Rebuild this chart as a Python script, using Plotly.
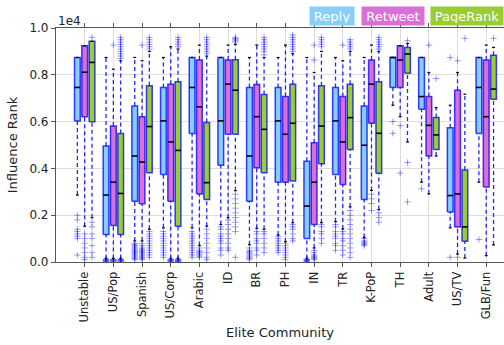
import plotly.graph_objects as go

categories = ["Unstable", "US/Pop", "Spanish", "US/Corp", "Arabic", "ID", "BR", "PH",
              "IN", "TR", "K-PoP", "TH", "Adult", "US/TV", "GLB/Fun"]
series_names = ["Reply", "Retweet", "PageRank"]
y_ticks = [0.0, 0.2, 0.4, 0.6, 0.8, 1.0]
y_tick_labels = ["0.0", "0.2", "0.4", "0.6", "0.8", "1.0"]

# Influence rank values, in units of 1e4
reply_q1 = [.603, .117, .26, .374, .549, .413, .26, .341, .10, .374, .267, .746, .653, .214, .549]
reply_med = [.746, .286, .453, .603, .746, .603, .453, .603, .239, .603, .499, .874, .707, .284, .746]
reply_q3 = [.874, .496, .667, .746, .874, .874, .746, .746, .431, .746, .667, .874, .874, .574, .874]
reply_lo = [.286, .015, .09, .146, .146, .16, .074, .115, .015, .172, .105, .67, .341, .146, .341]
reply_hi = [.874, .874, .874, .874, .874, .874, .874, .874, .874, .874, .874, .874, .874, .67, .874]
reply_out = [
    [.20, .18, .14, .13, .12, .11, .10, .03],
    [.012, .010, .008, .006, .004, .002],
    [.08, .075, .07, .065, .06, .055, .05, .045, .04, .035, .03, .025, .02, .015, .01],
    [.13, .12, .11, .10, .09, .08, .07, .06, .05, .04, .03, .02],
    [.13, .12, .11, .10, .09, .08, .07, .06, .05, .04, .03, .02],
    [.15, .14, .12, .11, .10, .09, .08, .06, .05, .03],
    [.06, .05, .045, .04, .035, .03, .025, .02, .015, .01],
    [.11, .10, .09, .08, .07, .06, .05, .04],
    [.012, .010, .008, .006, .004, .002],
    [.16, .15, .13, .12, .11, .10, .08, .07, .05],
    [.10, .09, .085, .08, .075, .07],
    [.60, .55],
    [.313],
    [.874, .02],
    [.096],
]

retweet_q1 = [.621, .156, .249, .26, .291, .546, .403, .341, .16, .331, .593, .746, .453, .15, .321]
retweet_med = [.811, .341, .427, .513, .663, .76, .621, .546, .341, .513, .76, .863, .584, .291, .621]
retweet_q3 = [.924, .581, .621, .76, .863, .863, .759, .707, .51, .707, .863, .924, .707, .734, .863]
retweet_lo = [.153, .015, .09, .015, .07, .189, .144, .087, .06, .141, .306, .621, .291, .034, .027]
retweet_hi = [.924, .824, .86, .92, .927, .927, .927, .927, .81, .86, .927, .924, .81, .81, .927]
retweet_out = [
    [.12, .10, .08, .06, .04, .02, .01],
    [.927, .012, .010, .008, .006, .004, .002],
    [.927, .08, .07, .06, .055, .05, .045, .04, .035, .03, .025, .02, .015, .01],
    [.012, .010, .008, .006, .004, .002],
    [.06, .05, .045, .04, .035, .03, .025, .02],
    [.18, .16, .14, .12, .10, .08, .06, .05],
    [.13, .12, .10, .09, .08, .06, .05, .03],
    [.08, .07, .06, .05, .04, .03, .02, .01],
    [.863, .927, .05, .04, .03, .025, .02, .015, .01],
    [.927, .13, .12, .10, .09, .07, .05, .03],
    [.29, .27, .25, .22],
    [.583, .38],
    [.927],
    [.86, .02],
    [],
]

pagerank_q1 = [.599, .117, .381, .153, .267, .546, .381, .346, .42, .481, .379, .807, .481, .089, .696]
pagerank_med = [.853, .293, .579, .477, .339, .734, .567, .593, .581, .617, .55, .889, .543, .15, .739]
pagerank_q3 = [.943, .549, .753, .77, .596, .864, .716, .76, .753, .76, .77, .917, .617, .393, .884]
pagerank_lo = [.189, .015, .14, .015, .153, .305, .14, .168, .168, .235, .224, .513, .453, .017, .073]
pagerank_hi = [.943, .86, .90, .91, .88, .93, .874, .89, .90, .90, .90, .934, .66, .717, .917]
pagerank_out = [
    [.96, .17, .15, .12, .10, .07, .04, .02],
    [.87, .88, .89, .90, .91, .92, .93, .94, .95, .96, .012, .010, .008, .006, .004, .002],
    [.91, .92, .93, .94, .95, .96, .13, .12, .11, .10, .09, .08, .07, .06, .05, .04, .03, .02],
    [.92, .93, .94, .95, .96, .012, .010, .008, .006, .004, .002],
    [.89, .90, .91, .92, .93, .94, .95, .96, .14, .12, .10, .08, .06, .04, .02, .01],
    [.94, .945, .95, .955, .96, .29, .27, .25, .23, .21, .19, .17, .15, .13, .02],
    [.885, .90, .91, .92, .93, .94, .95, .96, .13, .12, .10, .08, .06, .04],
    [.90, .91, .92, .93, .94, .95, .96, .97, .16, .15, .14, .12, .10, .09],
    [.92, .93, .94, .95, .96, .16, .15, .13, .12, .10, .08],
    [.91, .92, .93, .94, .95, .22, .20, .18, .16, .14, .12, .10, .08, .06, .04, .02],
    [.91, .92, .93, .94, .95, .96, .21, .19, .17],
    [.946, .425, .257],
    [.784],
    [.956],
    [.956],
]

fill_colors = ["#87CEFA", "#DA70D6", "#9ACD32"]
offsets = [-0.255, 0.0, 0.255]
half_w = 0.1
cap_w = 0.05

series = [
    (reply_q1, reply_med, reply_q3, reply_lo, reply_hi, reply_out),
    (retweet_q1, retweet_med, retweet_q3, retweet_lo, retweet_hi, retweet_out),
    (pagerank_q1, pagerank_med, pagerank_q3, pagerank_lo, pagerank_hi, pagerank_out),
]

fig = go.Figure()

whisk_traces, box_traces, line_traces, out_traces = [], [], [], []
for s, (q1, med, q3, lo, hi, outs) in enumerate(series):
    wx, wy, bx, by, mx, my, cx, cy, ox, oy = [], [], [], [], [], [], [], [], [], []
    for i in range(len(categories)):
        c = i + 1 + offsets[s]
        wx += [c, c, None, c, c, None]
        wy += [lo[i], q1[i], None, q3[i], hi[i], None]
        bx += [c - half_w, c + half_w, c + half_w, c - half_w, c - half_w, None]
        by += [q1[i], q1[i], q3[i], q3[i], q1[i], None]
        mx += [c - half_w, c + half_w, None]
        my += [med[i], med[i], None]
        cx += [c - cap_w, c + cap_w, None, c - cap_w, c + cap_w, None]
        cy += [lo[i], lo[i], None, hi[i], hi[i], None]
        ox += [c] * len(outs[i])
        oy += outs[i]
    whisk_traces.append(go.Scatter(x=wx, y=wy, mode="lines",
                                   line=dict(color="rgba(0,0,255,0.85)", width=1.3, dash="4px,3px"),
                                   hoverinfo="skip"))
    box_traces.append(go.Scatter(x=bx, y=by, mode="lines", fill="toself",
                                 fillcolor=fill_colors[s], name=series_names[s],
                                 line=dict(color="rgba(0,0,255,0.75)", width=1.5)))
    line_traces.append(go.Scatter(x=cx, y=cy, mode="lines",
                                  line=dict(color="black", width=1.2), hoverinfo="skip"))
    line_traces.append(go.Scatter(x=mx, y=my, mode="lines",
                                  line=dict(color="black", width=1.6), hoverinfo="skip"))
    out_traces.append(go.Scatter(x=ox, y=oy, mode="markers",
                                 marker=dict(symbol="cross-thin", size=4.5,
                                             line=dict(color="rgba(0,0,255,0.4)", width=1)),
                                 hoverinfo="skip"))

for t in whisk_traces + box_traces + line_traces + out_traces:
    fig.add_trace(t)

axis_col = "#555555"
grid_col = "#dddddd"
fig.update_layout(
    width=504, height=345,
    margin=dict(l=56, r=0, t=28, b=83),
    paper_bgcolor="white", plot_bgcolor="white",
    showlegend=False,
    font=dict(family="DejaVu Sans", color="#222"),
    xaxis=dict(range=[0, 15.62], tickmode="array", tickvals=list(range(1, len(categories) + 1)),
               ticktext=categories, tickangle=-90, tickfont=dict(size=11.5),
               showgrid=True, gridcolor=grid_col, gridwidth=1,
               showline=True, linecolor=axis_col, linewidth=1.2, mirror="ticks",
               ticks="outside", ticklen=4, tickcolor=axis_col, zeroline=False,
               title=dict(text="Elite Community", font=dict(size=13), standoff=6)),
    yaxis=dict(range=[0, 1.0], tickmode="array", tickvals=y_ticks, ticktext=y_tick_labels,
               tickfont=dict(size=12), showgrid=True, gridcolor=grid_col, gridwidth=1,
               showline=True, linecolor=axis_col, linewidth=1.2,
               ticks="outside", ticklen=4, tickcolor=axis_col, zeroline=False,
               title=dict(text="Influence Rank", font=dict(size=13), standoff=8)),
)

fig.add_annotation(text="1e4", xref="paper", yref="paper", x=0.0, y=1.0,
                   xanchor="left", yanchor="bottom", showarrow=False,
                   font=dict(size=12, color="#222"), yshift=-2)

legend_pos = [(0.616, 40), (0.752, 58), (0.918, 68)]
for s, (px, w) in enumerate(legend_pos):
    fig.add_annotation(text=series_names[s], xref="paper", yref="paper", x=px, y=1.05,
                       xanchor="center", yanchor="middle", showarrow=False,
                       bgcolor=fill_colors[s], width=w, height=14, borderpad=2,
                       font=dict(size=13, color="white"))

fig.write_html("out.html")
